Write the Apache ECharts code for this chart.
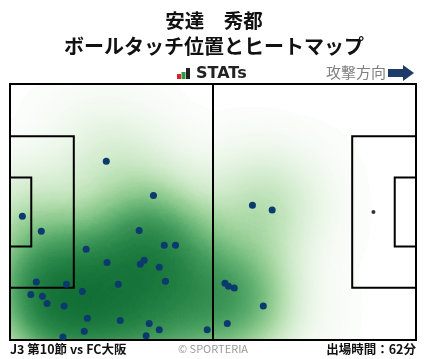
<!DOCTYPE html>
<html><head><meta charset="utf-8">
<script src="https://cdn.jsdelivr.net/npm/echarts@6/dist/echarts.min.js"></script>
<style>html,body{margin:0;padding:0;background:#fff}#c{width:428px;height:359px}</style>
</head><body><div id="c"></div>
<script>
// Ball touch positions in pitch metres (x: 0-105 toward attack, y: 0-68 from bottom touchline)
const touchX = [24.9, 37.1, 3.2, 8.1, 33.4, 39.9, 42.8, 19.7, 25.1, 33.7, 34.7, 38.6, 40.2, 6.8, 14.6, 18.7, 28.0, 5.4, 8.4, 9.6, 14.0, 20.0, 28.5, 36.0, 38.6, 19.2, 51.0, 13.7, 35.2, 62.7, 67.8, 55.6, 56.5, 58.0, 65.5, 56.2];
const touchY = [47.5, 38.4, 32.9, 28.9, 29.1, 25.2, 25.2, 24.1, 20.6, 20.1, 21.2, 19.3, 15.6, 15.4, 14.8, 12.9, 14.8, 12.1, 11.6, 9.7, 9.0, 5.8, 5.2, 4.4, 2.7, 2.3, 2.7, 0.8, 1.1, 35.8, 34.5, 15.1, 14.3, 13.8, 9.0, 4.4];
const heatWeight = 7;

const titleName = '安達　秀都';
const titleSub = 'ボールタッチ位置とヒートマップ';
const matchText = 'J3 第10節 vs FC大阪';
const minutesText = '出場時間：62分';
const attackText = '攻撃方向';

// pitch geometry (metres)
const pitchLen = 105, pitchWid = 68;
const pitchLines = [
  [[0,0],[105,0],[105,68],[0,68],[0,0]],
  [[52.5,0],[52.5,68]],
  [[0,13.85],[16.5,13.85],[16.5,54.15],[0,54.15]],
  [[0,24.85],[5.5,24.85],[5.5,43.15],[0,43.15]],
  [[105,13.85],[88.5,13.85],[88.5,54.15],[105,54.15]],
  [[105,24.85],[99.5,24.85],[99.5,43.15],[105,43.15]]
];
const penaltySpots = [[94,34]];

echarts.registerMap('pitch', {type:'FeatureCollection', features:[{type:'Feature', properties:{name:'pitch'},
  geometry:{type:'Polygon', coordinates:[[[0,0],[pitchLen,0],[pitchLen,pitchWid],[0,pitchWid],[0,0]]]}}]});

const chart = echarts.init(document.getElementById('c'), null, {renderer:'canvas'});
const touches = touchX.map((x,i)=>[x, touchY[i]]);
const heat = touchX.map((x,i)=>[x, touchY[i], heatWeight]);
const F = '"Noto Sans CJK JP", "Noto Sans", sans-serif';

chart.setOption({
  animation:false,
  backgroundColor:'#fff',
  geo:{map:'pitch', left:10, top:84, width:406, height:256, roam:false, silent:true,
    aspectScale:1, label:{show:false},
    itemStyle:{areaColor:'#fff', borderColor:'#000', borderWidth:2},
    emphasis:{disabled:true}, select:{disabled:true}},
  visualMap:{type:'continuous', show:false, min:0, max:10, seriesIndex:0,
    inRange:{color:['#f7fbf6','#e4f3e0','#d0eacb','#b9e0b2','#9bd294','#78c077','#52ab60','#2f9149','#157a38','#05662b','#004d21']}},
  series:[
    {type:'heatmap', coordinateSystem:'geo', geoIndex:0, data:heat, pointSize:30, blurSize:70,
      minOpacity:0.6, maxOpacity:1, z:2, silent:true},
    {type:'lines', coordinateSystem:'geo', geoIndex:0, polyline:true, silent:true, z:3,
      lineStyle:{color:'#000', width:2, opacity:1},
      data:pitchLines.map(c=>({coords:c}))},
    {type:'scatter', coordinateSystem:'geo', geoIndex:0, data:penaltySpots, symbolSize:4, z:4, silent:true,
      itemStyle:{color:'#000'}},
    {type:'scatter', coordinateSystem:'geo', geoIndex:0, data:touches, symbolSize:7, z:5, silent:true,
      itemStyle:{color:'#0b3a6e', opacity:1}}
  ],
  graphic:[
    {type:'text', x:214, y:21, style:{text:titleName, font:'bold 19.5px '+F, fill:'#111', align:'center', verticalAlign:'middle', textAlign:'center', textVerticalAlign:'middle'}},
    {type:'text', x:214, y:46, style:{text:titleSub, font:'bold 20px '+F, fill:'#111', align:'center', verticalAlign:'middle', textAlign:'center', textVerticalAlign:'middle'}},
    {type:'rect', shape:{x:177, y:74, width:4, height:5}, style:{fill:'#d8232a'}},
    {type:'rect', shape:{x:181.5, y:72, width:4, height:7}, style:{fill:'#2e9a3e'}},
    {type:'rect', shape:{x:186, y:68, width:4, height:11}, style:{fill:'#222'}},
    {type:'text', x:196, y:74, style:{text:'STATs', font:'bold 16px "DejaVu Sans", sans-serif', fill:'#222', align:'left', verticalAlign:'middle', textAlign:'left', textVerticalAlign:'middle'}},
    {type:'text', x:326, y:72.5, style:{text:attackText, font:'15px '+F, fill:'#808080', align:'left', verticalAlign:'middle', textAlign:'left', textVerticalAlign:'middle'}},
    {type:'polygon', shape:{points:[[388,69],[403,69],[403,65],[414,73],[403,81],[403,77],[388,77]]}, style:{fill:'#1d3c6a'}},
    {type:'text', x:10, y:349, style:{text:matchText, font:'bold 12.5px '+F, fill:'#111', align:'left', verticalAlign:'middle', textAlign:'left', textVerticalAlign:'middle'}},
    {type:'text', x:213, y:348.5, style:{text:'© SPORTERIA', font:'11px '+F, fill:'#999', align:'center', verticalAlign:'middle', textAlign:'center', textVerticalAlign:'middle'}},
    {type:'text', x:416, y:349, style:{text:minutesText, font:'bold 12.5px '+F, fill:'#111', align:'right', verticalAlign:'middle', textAlign:'right', textVerticalAlign:'middle'}}
  ]
});
</script></body></html>
